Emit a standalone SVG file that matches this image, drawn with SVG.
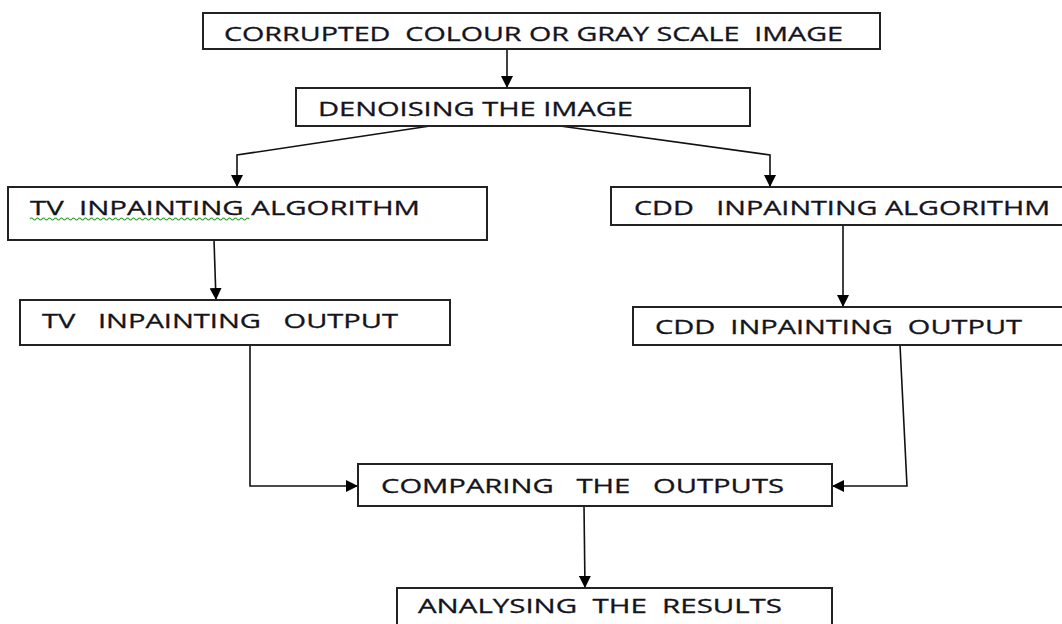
<svg xmlns="http://www.w3.org/2000/svg" width="1062" height="624" viewBox="0 0 1062 624">
<defs>
<style>
.box{fill:#fff;stroke:#222;stroke-width:2}
.t{font-family:"Open Sans","Liberation Sans",sans-serif;font-size:20px;fill:#141420;stroke:#141420;stroke-width:0.3}
.c{fill:none;stroke:#111;stroke-width:1.6}
</style>
<marker id="ah" viewBox="0 0 10 10" refX="10" refY="5" markerWidth="12" markerHeight="12" markerUnits="userSpaceOnUse" orient="auto">
<path d="M0,0 L10,5 L0,10 z" fill="#000"/>
</marker>
</defs>
<rect width="1062" height="624" fill="#fff"/>
<g id="connectors">
<path class="c" d="M507,49 L507,88" marker-end="url(#ah)"/>
<path class="c" d="M430,126 L237,155 L237,187" marker-end="url(#ah)"/>
<path class="c" d="M560,126 L770,155 L770,187" marker-end="url(#ah)"/>
<path class="c" d="M214,240 L216,300" marker-end="url(#ah)"/>
<path class="c" d="M843,225 L843,307" marker-end="url(#ah)"/>
<path class="c" d="M250,345 L250,486 L358,486" marker-end="url(#ah)"/>
<path class="c" d="M900,345 L907,486 L832,486" marker-end="url(#ah)"/>
<path class="c" d="M584,506 L585,588" marker-end="url(#ah)"/>
</g>
<g id="n1"><rect class="box" x="203" y="13" width="677" height="36"/>
<text class="t" x="224" y="41" textLength="619" lengthAdjust="spacingAndGlyphs" xml:space="preserve">CORRUPTED  COLOUR OR GRAY SCALE  IMAGE</text></g>
<g id="n2"><rect class="box" x="296" y="88" width="454" height="38"/>
<text class="t" x="318" y="116" textLength="315" lengthAdjust="spacingAndGlyphs">DENOISING THE IMAGE</text></g>
<g id="n3"><rect class="box" x="8" y="187" width="479" height="53"/>
<text class="t" x="30" y="215" textLength="390" lengthAdjust="spacingAndGlyphs" xml:space="preserve">TV  INPAINTING ALGORITHM</text>
<path d="M30,219 q1.5,-2 3,0 t3,0 t3,0 t3,0 t3,0 t3,0 t3,0 t3,0 t3,0 t3,0 t3,0 t3,0 t3,0 t3,0 t3,0 t3,0 t3,0 t3,0 t3,0 t3,0 t3,0 t3,0 t3,0 t3,0 t3,0 t3,0 t3,0 t3,0 t3,0 t3,0 t3,0 t3,0 t3,0 t3,0 t3,0 t3,0 t3,0 t3,0 t3,0 t3,0 t3,0 t3,0 t3,0 t3,0 t3,0 t3,0 t3,0 t3,0 t3,0 t3,0 t3,0 t3,0 t3,0 t3,0 t3,0 t3,0 t3,0 t3,0 t3,0 t3,0 t3,0 t3,0 t3,0 t3,0 t3,0 t3,0 t3,0 t3,0 t3,0 t3,0 t3,0 t3,0 t3,0" fill="none" stroke="#2e9e2e" stroke-width="1.2"/></g>
<g id="n4"><rect class="box" x="20" y="300" width="430" height="45"/>
<text class="t" x="42" y="328" textLength="356" lengthAdjust="spacingAndGlyphs" xml:space="preserve">TV   INPAINTING   OUTPUT</text></g>
<g id="n5"><rect class="box" x="611" y="187" width="455" height="38"/>
<text class="t" x="634" y="215" textLength="416" lengthAdjust="spacingAndGlyphs" xml:space="preserve">CDD   INPAINTING ALGORITHM</text></g>
<g id="n6"><rect class="box" x="633" y="307" width="433" height="38"/>
<text class="t" x="655" y="334" textLength="367" lengthAdjust="spacingAndGlyphs" xml:space="preserve">CDD  INPAINTING  OUTPUT</text></g>
<g id="n7"><rect class="box" x="358" y="464" width="474" height="42"/>
<text class="t" x="381" y="493" textLength="403" lengthAdjust="spacingAndGlyphs" xml:space="preserve">COMPARING   THE   OUTPUTS</text></g>
<g id="n8"><rect class="box" x="397" y="588" width="435" height="40"/>
<text class="t" x="418" y="613" textLength="364" lengthAdjust="spacingAndGlyphs" xml:space="preserve">ANALYSING  THE  RESULTS</text></g>
</svg>
